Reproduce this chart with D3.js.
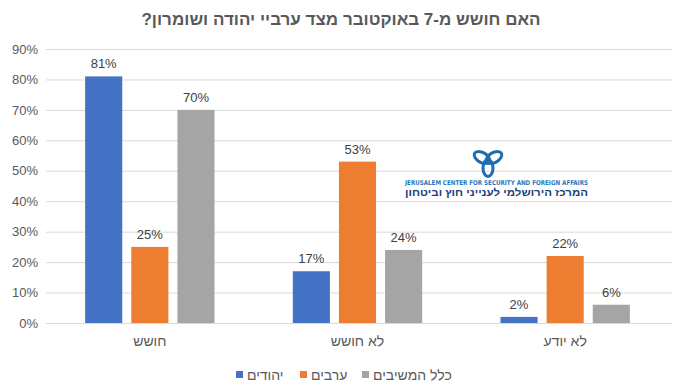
<!DOCTYPE html>
<html lang="he">
<head>
<meta charset="utf-8">
<script src="https://cdn.jsdelivr.net/npm/d3@7"></script>
<style>
  html, body { margin: 0; padding: 0; background: #fff; }
  svg { display: block; font-family: "Liberation Sans", Arial, sans-serif; }
</style>
</head>
<body>
<svg id="chart"></svg>
<script>
'use strict';

// ── Data ───────────────────────────────────────────────────────────────────
const categories = ['חושש', 'לא חושש', 'לא יודע'];
const seriesNames = ['יהודים', 'ערבים', 'כלל המשיבים'];
const jews   = [81, 17, 2];
const arabs  = [25, 53, 22];
const all    = [70, 24, 6];
const yTicks = [0, 10, 20, 30, 40, 50, 60, 70, 80, 90];
const colors = ['#4472c4', '#ed7d31', '#a5a5a5'];

const seriesValues = [jews, arabs, all];

// ── Layout ─────────────────────────────────────────────────────────────────
const width  = 682;
const height = 392;
const plot   = { left: 46, right: 669, top: 49, bottom: 323 };

const svg = d3.select('#chart').attr('width', width).attr('height', height);

// ── Scales ─────────────────────────────────────────────────────────────────
const x0 = d3.scaleBand()
  .domain(categories)
  .range([plot.left, plot.right])
  .paddingInner(0).paddingOuter(0);

const x1 = d3.scaleBand()
  .domain(seriesNames)
  .range([0, x0.bandwidth()])
  .paddingInner(0.196).paddingOuter(0.848);

const y = d3.scaleLinear()
  .domain([0, 90])
  .range([plot.bottom, plot.top]);

// ── Title ──────────────────────────────────────────────────────────────────
svg.append('text')
  .attr('x', width / 2).attr('y', 25)
  .attr('text-anchor', 'middle')
  .attr('direction', 'rtl')
  .attr('font-size', 17).attr('font-weight', 'bold')
  .attr('fill', '#595959')
  .text('האם חושש מ-7 באוקטובר מצד ערביי יהודה ושומרון?');

// ── Gridlines + y axis ─────────────────────────────────────────────────────
const yAxis = svg.append('g')
  .attr('transform', `translate(${plot.left},0)`)
  .call(d3.axisLeft(y).tickValues(yTicks).tickFormat(d => d + '%')
    .tickSize(-(plot.right - plot.left + 3)).tickPadding(8));
yAxis.select('.domain').remove();
yAxis.selectAll('.tick line').attr('stroke', '#d9d9d9');
yAxis.selectAll('.tick text')
  .attr('fill', '#595959').attr('font-size', 13)
  .attr('font-family', '"Liberation Sans", Arial, sans-serif');

// ── Logo (watermark) ───────────────────────────────────────────────────────
const logo = svg.append('g').attr('transform', 'translate(488,161)');
[-150, -30, 90].forEach(a => {
  const r = a * Math.PI / 180;
  logo.append('ellipse')
    .attr('cx', Math.cos(r) * 7).attr('cy', Math.sin(r) * 7)
    .attr('rx', 8.5).attr('ry', 5)
    .attr('transform', `rotate(${a},${Math.cos(r) * 7},${Math.sin(r) * 7})`)
    .attr('fill', 'none').attr('stroke', '#1f6cb0').attr('stroke-width', 3);
});
svg.append('text')
  .attr('x', 405).attr('y', 185)
  .attr('textLength', 183).attr('lengthAdjust', 'spacingAndGlyphs')
  .attr('font-size', 6.5).attr('font-weight', 'bold')
  .attr('font-family', '"DejaVu Sans Condensed", "Liberation Sans Narrow", sans-serif')
  .attr('fill', '#2b78bd')
  .text('JERUSALEM CENTER FOR SECURITY AND FOREIGN AFFAIRS');
svg.append('text')
  .attr('x', 405).attr('y', 196)
  .attr('textLength', 183).attr('lengthAdjust', 'spacingAndGlyphs')
  .attr('direction', 'rtl').attr('text-anchor', 'end')
  .attr('font-size', 10).attr('font-weight', 'bold')
  .attr('fill', '#1b3f75')
  .text('המרכז הירושלמי לענייני חוץ וביטחון');

// ── Bars ───────────────────────────────────────────────────────────────────
const rows = categories.map((c, i) => ({
  category: c,
  values: seriesNames.map((s, j) => ({ series: s, idx: j, value: seriesValues[j][i] }))
}));

const groups = svg.append('g').selectAll('g')
  .data(rows).join('g')
  .attr('transform', d => `translate(${x0(d.category)},0)`);

groups.selectAll('rect')
  .data(d => d.values).join('rect')
  .attr('x', d => x1(d.series))
  .attr('width', x1.bandwidth())
  .attr('y', d => y(d.value))
  .attr('height', d => y(0) - y(d.value))
  .attr('fill', d => colors[d.idx]);

groups.selectAll('text.val')
  .data(d => d.values).join('text')
  .attr('class', 'val')
  .attr('x', d => x1(d.series) + x1.bandwidth() / 2)
  .attr('y', d => y(d.value) - 8)
  .attr('text-anchor', 'middle')
  .attr('font-size', 13).attr('fill', '#404040')
  .text(d => d.value + '%');

// ── X axis ─────────────────────────────────────────────────────────────────
svg.append('line')
  .attr('x1', plot.left).attr('x2', plot.right + 3)
  .attr('y1', y(0) + 0.5).attr('y2', y(0) + 0.5)
  .attr('stroke', '#d9d9d9');

svg.append('g').selectAll('text')
  .data(categories).join('text')
  .attr('x', d => x0(d) + x0.bandwidth() / 2)
  .attr('y', 346)
  .attr('text-anchor', 'middle')
  .attr('direction', 'rtl')
  .attr('font-size', 14).attr('fill', '#595959')
  .text(d => d);

// ── Legend ─────────────────────────────────────────────────────────────────
const legendX = [236, 300, 362];
const legend = svg.append('g').selectAll('g')
  .data(seriesNames).join('g')
  .attr('transform', (d, i) => `translate(${legendX[i]},375)`);
legend.append('rect')
  .attr('x', 0).attr('y', -4).attr('width', 7).attr('height', 7)
  .attr('fill', (d, i) => colors[i]);
legend.append('text')
  .attr('x', 11).attr('y', 5)
  .attr('direction', 'rtl').attr('text-anchor', 'end')
  .attr('font-size', 14).attr('fill', '#595959')
  .text(d => d);
</script>
</body>
</html>
